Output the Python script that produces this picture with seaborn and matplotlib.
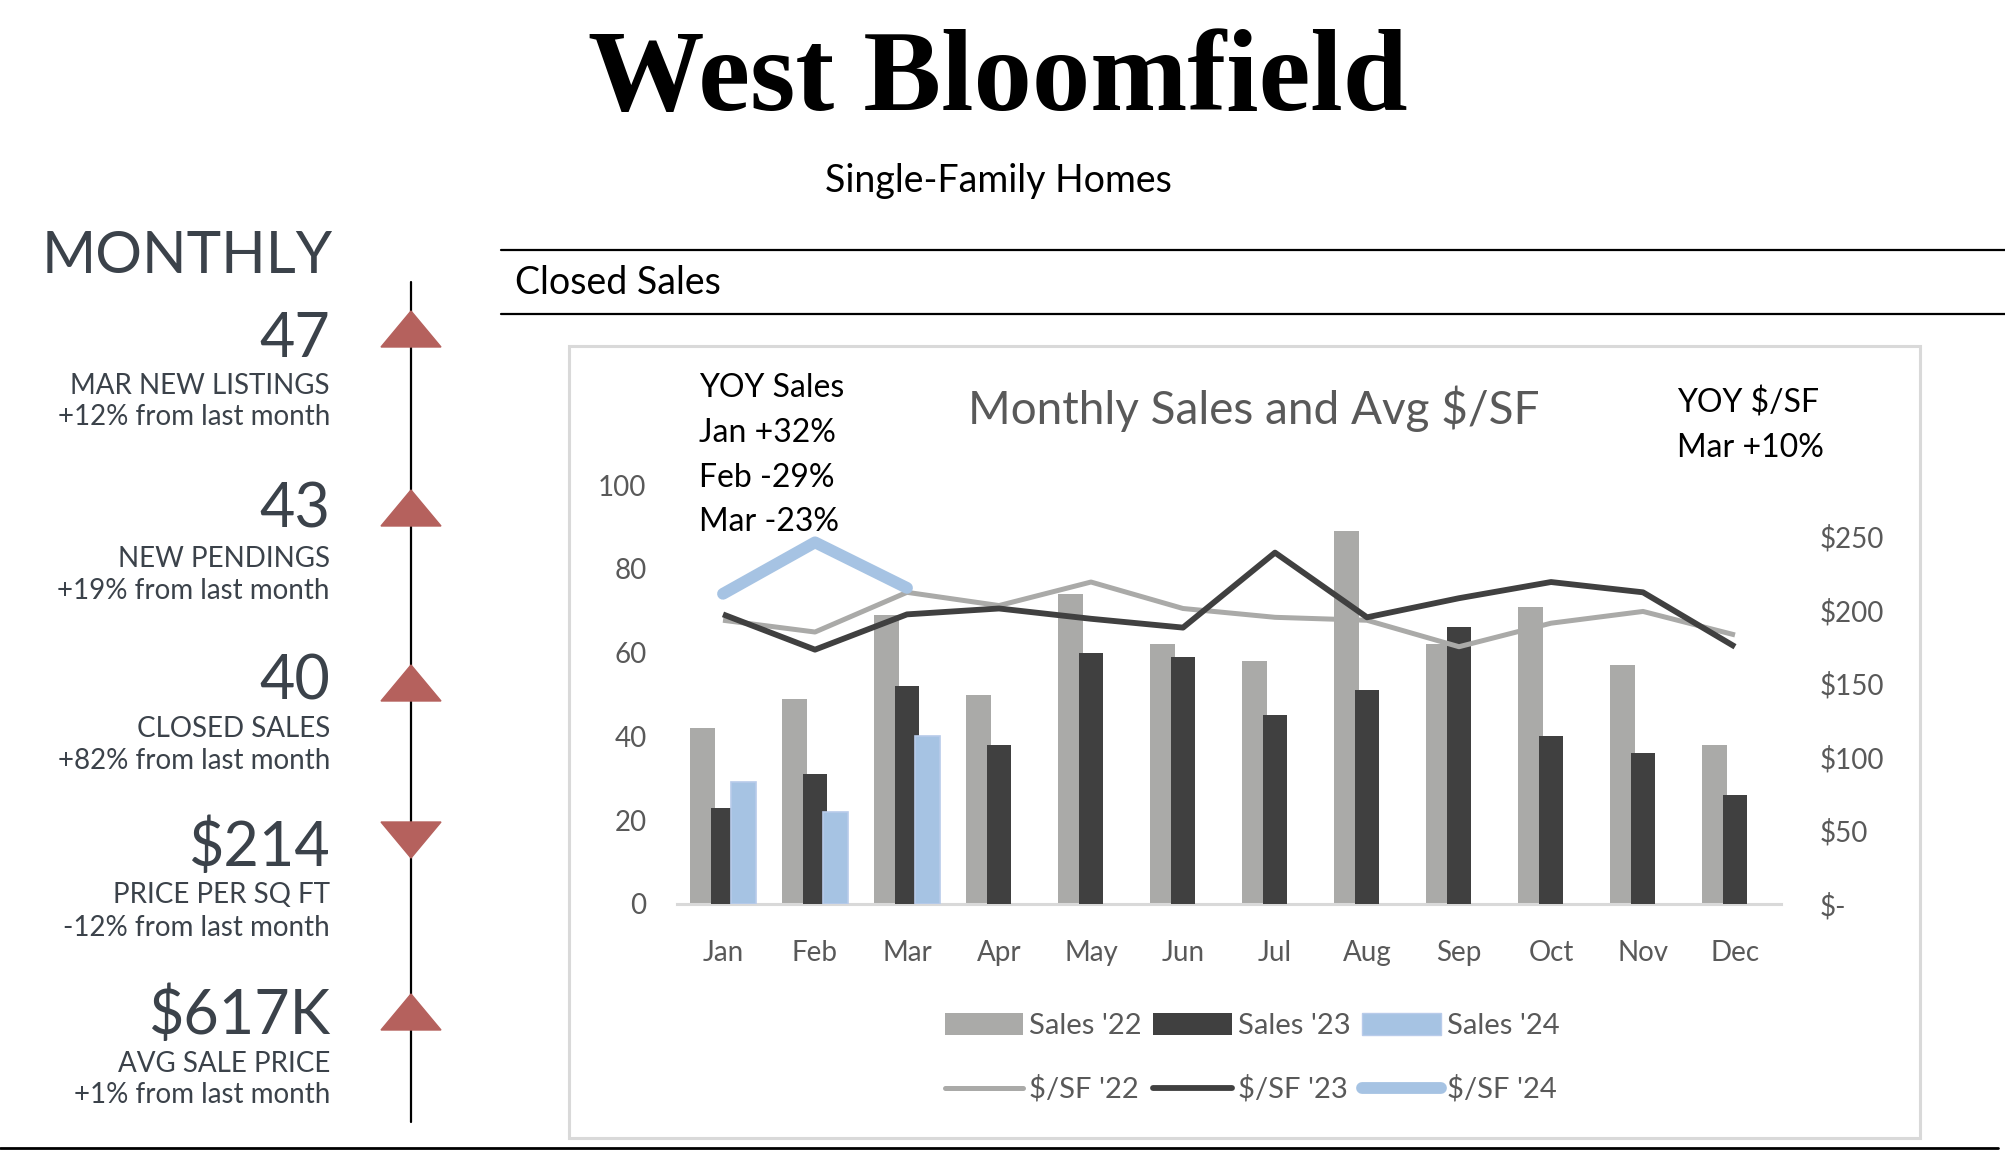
import numpy as np
import pandas as pd
import matplotlib
matplotlib.use("Agg")
import matplotlib.pyplot as plt
import seaborn as sns
from matplotlib.patches import Patch, Polygon, Rectangle
from matplotlib.lines import Line2D

# ---- data ----
months = ["Jan", "Feb", "Mar", "Apr", "May", "Jun", "Jul", "Aug", "Sep", "Oct", "Nov", "Dec"]
sales_22 = [42, 49, 69, 50, 74, 62, 58, 89, 62, 71, 57, 38]
sales_23 = [23, 31, 52, 38, 60, 59, 45, 51, 66, 40, 36, 26]
sales_24 = [29, 22, 40]
ppsf_22 = [193, 185, 212, 203, 219, 201, 195, 193, 175, 191, 199, 183]
ppsf_23 = [197, 173, 197, 201, 194, 188, 239, 195, 208, 219, 212, 175]
ppsf_24 = [211, 246, 215]

yoy_sales = ["YOY Sales", "Jan +32%", "Feb -29%", "Mar -23%"]
yoy_ppsf = ["YOY $/SF", "Mar +10%"]

kpi_values = ["47", "43", "40", "$214", "$617K"]
kpi_labels = ["MAR NEW LISTINGS", "NEW PENDINGS", "CLOSED SALES", "PRICE PER SQ FT", "AVG SALE PRICE"]
kpi_changes = ["+12% from last month", "+19% from last month", "+82% from last month",
               "-12% from last month", "+1% from last month"]
kpi_up = [True, True, True, False, True]

left_ticks = [0, 20, 40, 60, 80, 100]
right_ticks = [0, 50, 100, 150, 200, 250]
right_labels = ["$-", "$50", "$100", "$150", "$200", "$250"]

C22, C23, C24 = "#aaaaa8", "#404040", "#a6c3e3"
TXT = "#595959"
SLATE = "#3b424a"
RED = "#b5615d"
SANS = ["Lato", "DejaVu Sans"]

W, H = 2006, 1172
sns.set_theme(style="white")
plt.rcParams["font.family"] = SANS

fig = plt.figure(figsize=(W / 100, H / 100), dpi=100)
fig.patch.set_facecolor("white")

# page layer in pixel coordinates
bg = fig.add_axes([0, 0, 1, 1], zorder=0)
bg.set_xlim(0, W)
bg.set_ylim(H, 0)
bg.axis("off")

bg.text(998, 110, "West Bloomfield", family=["Liberation Serif", "DejaVu Serif"],
        fontsize=84, fontweight="bold", ha="center", va="baseline", color="black")
bg.text(998, 192, "Single-Family Homes", fontsize=27, ha="center", va="baseline", color="black")

bg.plot([501, W], [250, 250], color="black", lw=1.6)
bg.plot([501, W], [314, 314], color="black", lw=1.6)
bg.text(515, 294, "Closed Sales", fontsize=27, ha="left", va="baseline", color="black")
bg.plot([0, 1998], [1148, 1148], color="black", lw=2)
bg.add_patch(Rectangle((569, 346), 1351, 792, fill=False, edgecolor="#d9d9d9", lw=2.2))

# left KPI panel
bg.text(333, 273, "MONTHLY", fontsize=42, ha="right", va="baseline", color=SLATE)
bg.plot([411, 411], [282, 1122], color="black", lw=1.6)
num_base = [357, 528, 700, 866, 1034]
lab_base = [394, 567, 737, 903, 1072]
chg_base = [425, 599, 769, 936, 1103]
tri_top = [311, 490, 665, 822, 994]
for i in range(5):
    bg.text(330, num_base[i], kpi_values[i], fontsize=44,
            ha="right", va="baseline", color=SLATE)
    bg.text(330, lab_base[i], kpi_labels[i], fontsize=20, ha="right", va="baseline", color=SLATE)
    bg.text(330, chg_base[i], kpi_changes[i], fontsize=20, ha="right", va="baseline", color=SLATE)
    t, b = tri_top[i], tri_top[i] + 36
    if kpi_up[i]:
        pts = [(381, b), (441, b), (411, t)]
    else:
        pts = [(381, t), (441, t), (411, b)]
    bg.add_patch(Polygon(pts, closed=True, color=RED, zorder=3))

# chart texts
bg.text(1254, 424, "Monthly Sales and Avg $/SF", fontsize=33, ha="center", va="baseline", color=TXT)
for s, yb in zip(yoy_sales, [397, 442, 487, 531]):
    bg.text(699, yb, s, fontsize=23, ha="left", va="baseline", color="black")
for s, yb in zip(yoy_ppsf, [413, 457]):
    bg.text(1677, yb, s, fontsize=23, ha="left", va="baseline", color="black")

# ---- chart ----
ax = fig.add_axes([677 / W, 1 - 904 / H, 1104 / W, 419 / H], zorder=2)
ax.set_facecolor("none")

rows = []
for lab, vals in [("Sales '22", sales_22), ("Sales '23", sales_23), ("Sales '24", sales_24)]:
    for m, v in zip(months, vals):
        rows.append({"month": m, "series": lab, "value": v})
df = pd.DataFrame(rows)

sns.barplot(data=df, x="month", y="value", hue="series", order=months,
            hue_order=["Sales '22", "Sales '23", "Sales '24"], palette=[C22, C23, C24],
            width=0.66, saturation=1, errorbar=None, legend=False, ax=ax)
bw = 0.27
for k, cont in enumerate(ax.containers):
    for bar in cont:
        c = bar.get_x() + bar.get_width() / 2
        bar.set_x(c - bw / 2)
        bar.set_width(bw)
        bar.set_zorder(2 + k)
        if k == 2:
            bar.set_edgecolor("#b8cbea")
            bar.set_linewidth(1.2)
        else:
            bar.set_linewidth(0)

ax.set_xlim(-0.5, 11.5)
ax.set_ylim(0, 100)
ax.set_yticks(left_ticks)
ax.set_xlabel("")
ax.set_ylabel("")
for sp in ["top", "left", "right"]:
    ax.spines[sp].set_visible(False)
ax.spines["bottom"].set_color("#d9d9d9")
ax.spines["bottom"].set_linewidth(2.2)
ax.tick_params(axis="both", length=0, labelsize=20, labelcolor=TXT)
ax.tick_params(axis="y", pad=22)
ax.tick_params(axis="x", pad=26)

ax2 = ax.twinx()
x = np.arange(12)
sns.lineplot(x=x, y=ppsf_22, ax=ax2, color=C22, lw=3.6, sort=False,
             solid_joinstyle="round", solid_capstyle="butt")
sns.lineplot(x=x, y=ppsf_23, ax=ax2, color=C23, lw=4.2, sort=False,
             solid_joinstyle="round", solid_capstyle="butt")
sns.lineplot(x=x[:3], y=ppsf_24, ax=ax2, color=C24, lw=8.5, sort=False,
             solid_joinstyle="round", solid_capstyle="round")
ax2.set_ylim(0, 285)
ax2.set_yticks(right_ticks)
ax2.set_yticklabels(right_labels)
ax2.set_ylabel("")
for sp in ax2.spines.values():
    sp.set_visible(False)
ax2.tick_params(axis="y", length=0, labelsize=20, labelcolor=TXT, pad=28)

handles = [
    Patch(facecolor=C22, edgecolor="none", label="Sales '22"),
    Line2D([], [], color=C22, lw=3.6, solid_capstyle="round", label="$/SF '22"),
    Patch(facecolor=C23, edgecolor="none", label="Sales '23"),
    Line2D([], [], color=C23, lw=4.2, solid_capstyle="round", label="$/SF '23"),
    Patch(facecolor=C24, edgecolor="#b8cbea", label="Sales '24"),
    Line2D([], [], color=C24, lw=8.5, solid_capstyle="round", label="$/SF '24"),
]
fig.legend(handles=handles, ncol=3, loc="center", bbox_to_anchor=(1252 / W, 1 - 1058 / H),
           frameon=False, fontsize=21, labelcolor=TXT, handlelength=2.7, handleheight=0.75,
           handletextpad=0.2, columnspacing=0.4, labelspacing=1.25)

fig.savefig("out.png", dpi=100, facecolor="white")
